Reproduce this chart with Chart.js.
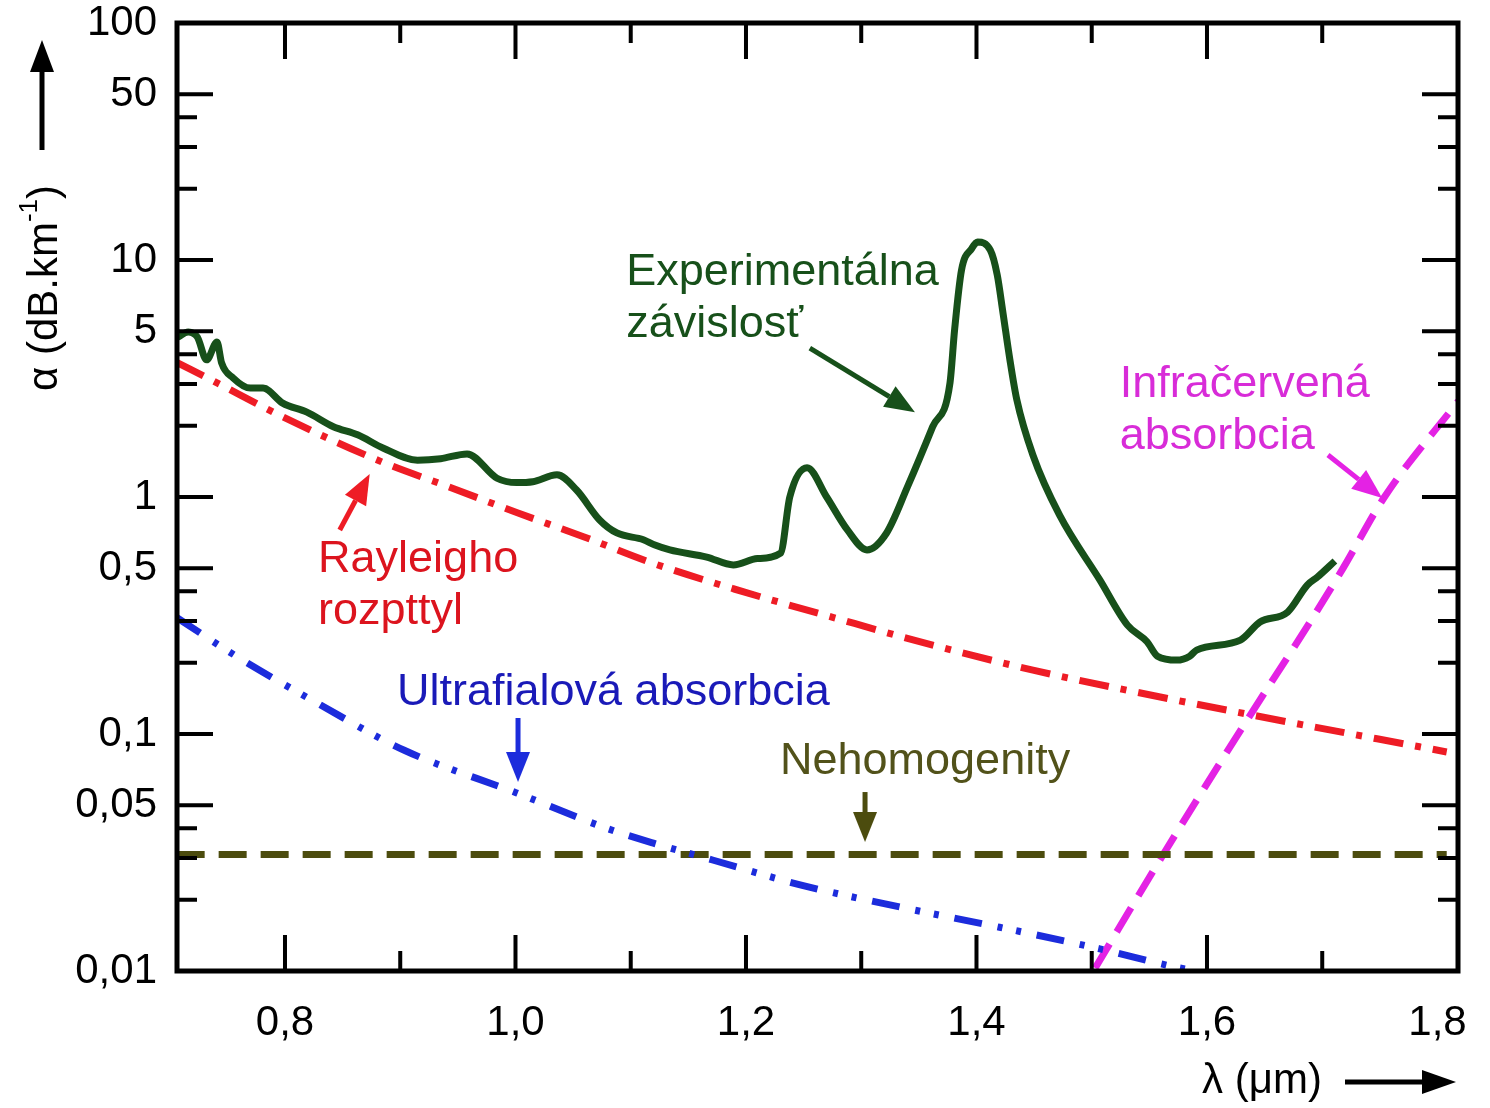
<!DOCTYPE html>
<html>
<head>
<meta charset="utf-8">
<title>Spektrálna závislosť útlmu</title>
<script src="https://cdn.jsdelivr.net/npm/chart.js@4.4.1/dist/chart.umd.min.js"></script>
<style>
  body { margin: 0; background: #fff; }
  canvas { display: block; }
</style>
</head>
<body>
<canvas id="graf" width="1490" height="1108"></canvas>
<script>
// vlnova dlzka (um) a utlm (dB/km)
let expX = [0.707, 0.716, 0.724, 0.732, 0.741, 0.745, 0.755, 0.770, 0.781, 0.798, 0.819, 0.842, 0.863, 0.885,
  0.915, 0.935, 0.958, 0.984, 1.001, 1.015, 1.036, 1.053, 1.073, 1.088, 1.111, 1.121, 1.134, 1.166, 1.189,
  1.210, 1.230, 1.238, 1.253, 1.270, 1.288, 1.305, 1.322, 1.340, 1.362, 1.377, 1.381, 1.387, 1.396, 1.401,
  1.412, 1.418, 1.423, 1.429, 1.435, 1.449, 1.472, 1.507, 1.531, 1.548, 1.557, 1.574, 1.585, 1.591, 1.629,
  1.646, 1.670, 1.687, 1.696, 1.711];
let expY = [4.73, 4.97, 4.73, 3.79, 4.51, 3.68, 3.18, 2.88, 2.88, 2.49, 2.28, 1.98, 1.83, 1.61,
  1.43, 1.45, 1.52, 1.20, 1.15, 1.16, 1.24, 1.07, 0.80, 0.705, 0.66, 0.627, 0.598, 0.558, 0.517,
  0.55, 0.58, 1.0, 1.33, 1.0, 0.726, 0.598, 0.705, 1.10, 1.98, 3.03, 5.07, 9.07, 11.2, 11.9,
  11.0, 8.65, 5.98, 3.79, 2.57, 1.50, 0.84, 0.447, 0.288, 0.245, 0.213, 0.205, 0.213, 0.226, 0.249,
  0.297, 0.327, 0.425, 0.46, 0.537];

let rayX = [0.706, 0.741, 0.798, 0.885, 0.943, 1.001, 1.059, 1.117, 1.189, 1.276, 1.362, 1.449, 1.522, 1.640, 1.808];
let rayY = [3.70, 3.03, 2.18, 1.40, 1.10, 0.86, 0.68, 0.53, 0.41, 0.31, 0.237, 0.186, 0.156, 0.120, 0.084];

let uvX = [0.706, 0.759, 0.828, 0.903, 1.001, 1.076, 1.119, 1.171, 1.247, 1.334, 1.420, 1.507, 1.572, 1.590];
let uvY = [0.31, 0.211, 0.135, 0.0856, 0.0564, 0.0405, 0.0347, 0.0294, 0.0231, 0.0186, 0.0153, 0.0124, 0.0104, 0.0100];

let nehX = [0.706, 1.808];
let nehY = [0.031, 0.031];

let irX = [1.503, 1.562, 1.635, 1.690, 1.718, 1.754, 1.818];
let irY = [0.0103, 0.031, 0.115, 0.30, 0.50, 1.0, 2.54];

// osi
let xZnacky = [0.8, 0.9, 1.0, 1.1, 1.2, 1.3, 1.4, 1.5, 1.6, 1.7];
let xPopisy = [0.8, 1.0, 1.2, 1.4, 1.6, 1.8];
let yZnacky = [0.01, 0.02, 0.03, 0.04, 0.05, 0.1, 0.2, 0.3, 0.4, 0.5, 1, 2, 3, 4, 5, 10, 20, 30, 40, 50, 100];
let yPopisy = [0.01, 0.05, 0.1, 0.5, 1, 5, 10, 50, 100];

const zelena = '#17501a';
const cervena = '#ee1c25';
const modra = '#1c2cdc';
const olivova = '#4c4c0e';
const fialova = '#e422e4';
const pismo = '"Liberation Sans", Arial, sans-serif';

// popisy kriviek a sipky (v suradniciach grafu)
let popisy = [
  ['Experimentálna', 1.096, 8.81, zelena],
  ['závislosť', 1.096, 5.32, zelena],
  ['Rayleigho', 0.8287, 0.542, '#dc141e'],
  ['rozpttyl', 0.8287, 0.327, '#dc141e'],
  ['Ultrafialová absorbcia', 0.8972, 0.149, '#1a1ab8'],
  ['Nehomogenity', 1.2295, 0.0762, '#52521a'],
  ['Infračervená', 1.5243, 2.97, '#d82cd8'],
  ['absorbcia', 1.5243, 1.79, '#d82cd8']
];
let sipky = [
  [1.2554, 4.25, 1.3466, 2.28, zelena],
  [0.8475, 0.726, 0.8735, 1.25, cervena],
  [1.0022, 0.1168, 1.0022, 0.0627, modra],
  [1.3033, 0.0569, 1.3033, 0.035, olivova],
  [1.705, 1.503, 1.752, 0.99, fialova]
];

function body(xs, ys) {
  return xs.map((x, i) => ({x: x, y: ys[i]}));
}

function krivka(xs, ys, farba, hrubka, ciarky) {
  return {
    data: body(xs, ys),
    borderColor: farba,
    borderWidth: hrubka,
    borderDash: ciarky,
    pointRadius: 0,
    fill: false,
    cubicInterpolationMode: 'monotone'
  };
}

function sipka(ctx, x1, y1, x2, y2, farba, hrubka, dlzka, sirka) {
  const uhol = Math.atan2(y2 - y1, x2 - x1);
  const bx = x2 - dlzka * Math.cos(uhol);
  const by = y2 - dlzka * Math.sin(uhol);
  ctx.strokeStyle = farba;
  ctx.fillStyle = farba;
  ctx.lineWidth = hrubka;
  ctx.setLineDash([]);
  ctx.beginPath();
  ctx.moveTo(x1, y1);
  ctx.lineTo(bx, by);
  ctx.stroke();
  ctx.beginPath();
  ctx.moveTo(x2, y2);
  ctx.lineTo(bx + sirka * Math.sin(uhol), by - sirka * Math.cos(uhol));
  ctx.lineTo(bx - sirka * Math.sin(uhol), by + sirka * Math.cos(uhol));
  ctx.closePath();
  ctx.fill();
}

// ramcek, znacky dovnutra, popisy a nazvy osi
const ramcek = {
  id: 'ramcek',
  afterDatasetsDraw(chart) {
    const ctx = chart.ctx;
    const a = chart.chartArea;
    const x = chart.scales.x;
    const y = chart.scales.y;
    ctx.save();
    ctx.strokeStyle = '#000';
    ctx.lineWidth = 4;
    ctx.setLineDash([]);
    xZnacky.forEach((v, i) => {
      const px = x.getPixelForValue(v);
      const d = i % 2 === 0 ? 36 : 20;
      ctx.beginPath();
      ctx.moveTo(px, a.bottom); ctx.lineTo(px, a.bottom - d);
      ctx.moveTo(px, a.top); ctx.lineTo(px, a.top + d);
      ctx.stroke();
    });
    yZnacky.forEach((v) => {
      const py = y.getPixelForValue(v);
      const d = yPopisy.includes(v) ? 36 : 20;
      ctx.beginPath();
      ctx.moveTo(a.left, py); ctx.lineTo(a.left + d, py);
      ctx.moveTo(a.right, py); ctx.lineTo(a.right - d, py);
      ctx.stroke();
    });
    ctx.lineWidth = 5;
    ctx.strokeRect(a.left, a.top, a.right - a.left, a.bottom - a.top);

    ctx.font = '45px ' + pismo;
    ctx.textAlign = 'left';
    ctx.textBaseline = 'middle';
    popisy.forEach((p) => {
      ctx.fillStyle = p[3];
      ctx.fillText(p[0], x.getPixelForValue(p[1]), y.getPixelForValue(p[2]));
    });
    sipky.forEach((s) => {
      sipka(ctx, x.getPixelForValue(s[0]), y.getPixelForValue(s[1]),
        x.getPixelForValue(s[2]), y.getPixelForValue(s[3]), s[4], 5, 30, 12);
    });

    // nazov osi y s exponentom
    ctx.fillStyle = '#000';
    ctx.save();
    ctx.translate(a.left - 132, a.top + 265);
    ctx.rotate(-Math.PI / 2);
    const zaklad = 'α (dB.km';
    ctx.font = '42px ' + pismo;
    const w1 = ctx.measureText(zaklad).width;
    const w3 = ctx.measureText(')').width;
    ctx.font = '26px ' + pismo;
    const w2 = ctx.measureText('-1').width;
    let zx = -(w1 + w2 + w3) / 2;
    ctx.font = '42px ' + pismo;
    ctx.fillText(zaklad, zx, 0);
    ctx.font = '26px ' + pismo;
    ctx.fillText('-1', zx + w1, -15);
    ctx.font = '42px ' + pismo;
    ctx.fillText(')', zx + w1 + w2, 0);
    ctx.restore();
    sipka(ctx, a.left - 135, a.top + 127, a.left - 135, a.top + 17, '#000', 5, 32, 12);

    // nazov osi x
    ctx.font = '42px ' + pismo;
    ctx.textAlign = 'center';
    ctx.fillStyle = '#000';
    ctx.fillText('λ (μm)', a.left + 1085, a.bottom + 110);
    sipka(ctx, a.left + 1168, a.bottom + 111, a.right - 2, a.bottom + 111, '#000', 5, 34, 12);
    ctx.restore();
  }
};

const ctx = document.getElementById('graf');
new Chart(ctx, {
  type: 'line',
  data: {
    datasets: [
      krivka(expX, expY, zelena, 7, []),
      krivka(rayX, rayY, cervena, 7, [30, 12, 6, 12]),
      krivka(uvX, uvY, modra, 7, [28, 16, 5, 14, 5, 16]),
      krivka(nehX, nehY, olivova, 7, [28, 14]),
      krivka(irX, irY, fialova, 7, [28, 14])
    ]
  },
  options: {
    responsive: false,
    animation: false,
    layout: { padding: { top: 23, right: 32, left: 0, bottom: 0 } },
    plugins: { legend: { display: false }, tooltip: { enabled: false } },
    scales: {
      x: {
        type: 'linear',
        min: 0.7063,
        max: 1.8178,
        grid: { display: false },
        border: { display: false },
        afterBuildTicks: (s) => { s.ticks = xPopisy.map((v) => ({value: v})); },
        afterFit: (s) => { s.height = 137; s.paddingLeft = 0; s.paddingRight = 0; },
        ticks: {
          autoSkip: false,
          maxRotation: 0,
          padding: 19,
          color: '#000',
          font: { family: pismo, size: 42 },
          callback: (v) => v.toFixed(1).replace('.', ',')
        }
      },
      y: {
        type: 'logarithmic',
        min: 0.01,
        max: 100,
        grid: { display: false },
        border: { display: false },
        afterBuildTicks: (s) => { s.ticks = yPopisy.map((v) => ({value: v})); },
        afterFit: (s) => { s.width = 177; s.paddingTop = 0; s.paddingBottom = 0; },
        ticks: {
          autoSkip: false,
          padding: 12,
          color: '#000',
          font: { family: pismo, size: 42 },
          callback: (v) => String(v).replace('.', ',')
        }
      }
    }
  },
  plugins: [ramcek]
});
</script>
</body>
</html>
